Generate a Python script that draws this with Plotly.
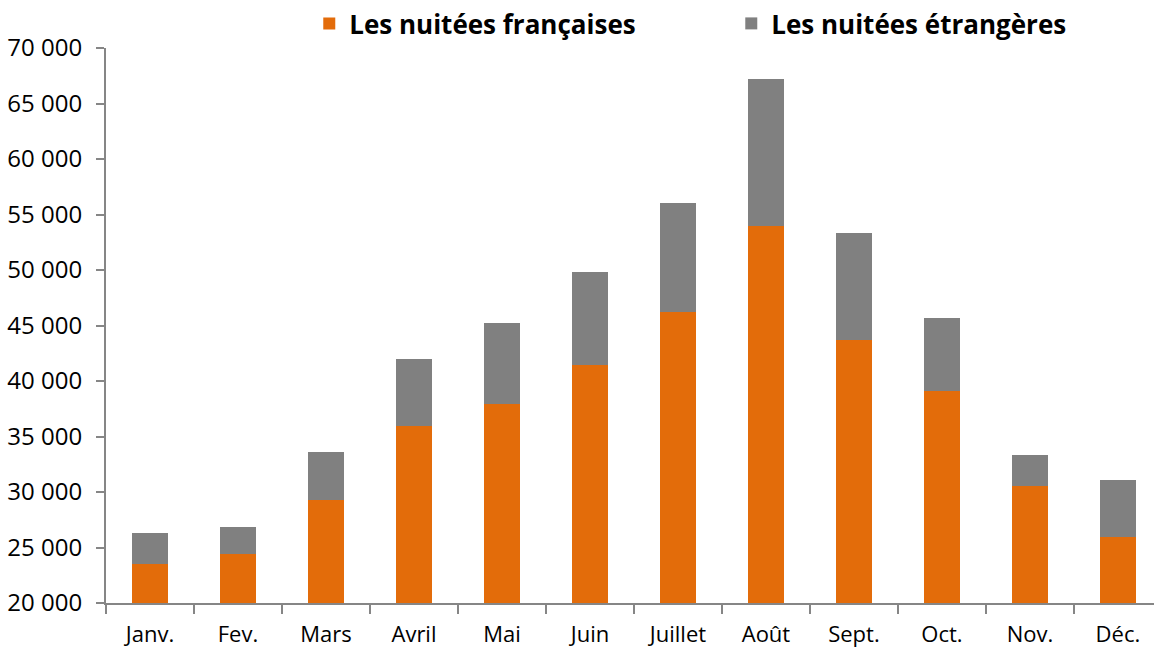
import plotly.graph_objects as go

mois = ["Janv.", "Fev.", "Mars", "Avril", "Mai", "Juin", "Juillet", "Août", "Sept.", "Oct.", "Nov.", "Déc."]
nuitees_francaises = [23510, 24450, 29320, 35980, 37900, 41440, 46190, 54000, 43730, 39140, 30580, 25950]
nuitees_etrangeres = [2830, 2370, 4280, 6000, 7325, 8380, 9850, 13200, 9640, 6510, 2730, 5100]
y_ticks = [20000, 25000, 30000, 35000, 40000, 45000, 50000, 55000, 60000, 65000, 70000]
y_tick_labels = ["20 000", "25 000", "30 000", "35 000", "40 000", "45 000", "50 000", "55 000", "60 000", "65 000", "70 000"]

fig = go.Figure()
fig.add_trace(go.Bar(x=mois, y=nuitees_francaises, name="Les nuitées françaises",
                     marker=dict(color="#E36C0A", line=dict(width=0))))
fig.add_trace(go.Bar(x=mois, y=nuitees_etrangeres, name="Les nuitées étrangères",
                     marker=dict(color="#808080", line=dict(width=0))))

fig.update_layout(
    width=1154, height=650,
    barmode="stack", bargap=0.6,
    paper_bgcolor="white", plot_bgcolor="white",
    margin=dict(l=106, r=0, t=48, b=47, autoexpand=False),
    font=dict(family="'Open Sans', sans-serif", color="black"),
    legend=dict(orientation="h", xref="container", yref="container",
                x=0.268, xanchor="left", y=1.0, yanchor="top",
                font=dict(size=26, family="'Open Sans', sans-serif", weight="bold"),
                traceorder="normal", itemwidth=30, entrywidth=377, entrywidthmode="pixels",
                bgcolor="rgba(0,0,0,0)"),
    showlegend=True,
)
fig.update_yaxes(range=[20000, 70000], tickvals=y_ticks, ticktext=y_tick_labels,
                 showline=True, linecolor="#868686", linewidth=2,
                 ticks="outside", ticklen=8, tickcolor="#868686", tickwidth=2,
                 showgrid=False, zeroline=False, tickfont=dict(size=24),
                 ticklabelstandoff=9, automargin=False)
fig.update_xaxes(range=[-0.5, 11.41], type="category",
                 showline=True, linecolor="#868686", linewidth=2,
                 ticks="outside", ticklen=9, tickcolor="#868686", tickwidth=2,
                 tickson="boundaries", showgrid=False, tickfont=dict(size=22),
                 ticklabelstandoff=11, automargin=False)

fig.write_html("out.html", config={"displayModeBar": False},
               post_script="document.body.style.margin='0';document.body.style.overflow='hidden';")
